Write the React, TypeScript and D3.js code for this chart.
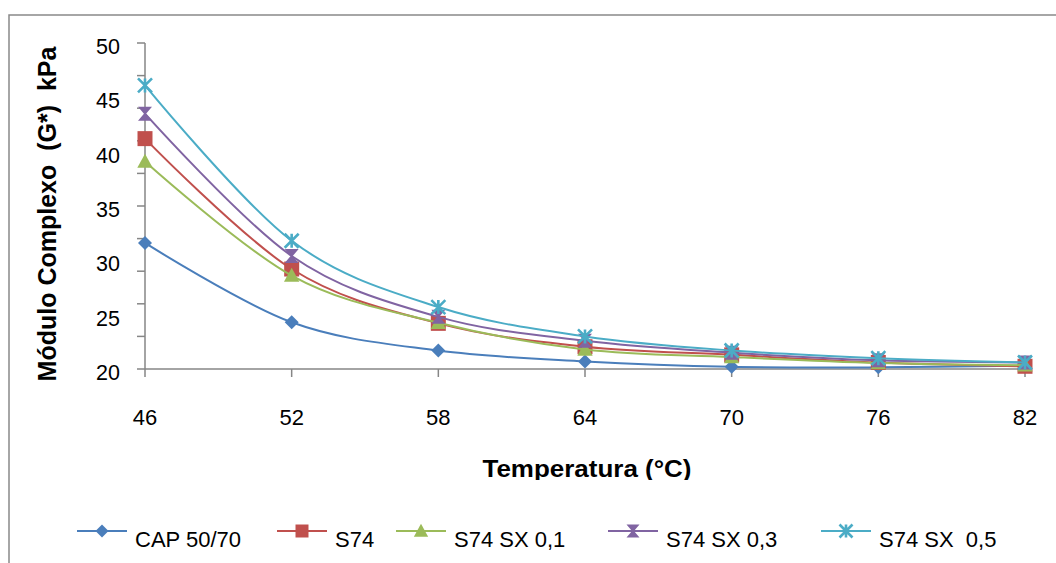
import { useRef, useEffect } from 'react';
import * as d3 from 'd3';

const temperatures = ['46', '52', '58', '64', '70', '76', '82'];
const seriesNames = ['CAP 50/70', 'S74', 'S74 SX 0,1', 'S74 SX 0,3', 'S74 SX  0,5'];
const cap5070 = [31.6, 24.3, 21.7, 20.7, 20.2, 20.15, 20.3];
const s74 = [41.2, 29.2, 24.2, 22.05, 21.3, 20.6, 20.25];
const s74sx01 = [39.1, 28.6, 24.25, 21.8, 21.1, 20.55, 20.35];
const s74sx03 = [43.5, 30.4, 24.8, 22.6, 21.5, 20.8, 20.6];
const s74sx05 = [46.1, 31.8, 25.7, 23.0, 21.7, 21.0, 20.6];
const yTickLabels = [20, 25, 30, 35, 40, 45, 50];
const yTickMarks = [20, 23, 26, 29, 32, 35, 38, 41, 44, 47, 50];

const colors = ['#4a7ebb', '#c0504d', '#9bbb59', '#8064a2', '#4bacc6'];
const markers = ['diamond', 'square', 'triangle', 'hourglass', 'star'];
const FONT = "'Liberation Sans', Arial, sans-serif";

const markerPath = (kind: string, s: number) => {
  switch (kind) {
    case 'diamond': return `M0,${-s}L${s},0L0,${s}L${-s},0Z`;
    case 'square': return `M${-s},${-s}H${s}V${s}H${-s}Z`;
    case 'triangle': return `M0,${-s * 1.1}L${s * 1.1},${s * 0.9}L${-s * 1.1},${s * 0.9}Z`;
    case 'hourglass': return `M${-s},${-s}H${s}L${s * 0.15},0L${s},${s}H${-s}L${-s * 0.15},0Z`;
    default: return '';
  }
};

const drawMarker = (g: any, kind: string, color: string, x: number, y: number, s: number) => {
  if (kind === 'star') {
    g.append('path')
      .attr('d', `M${x - s},${y - s}L${x + s},${y + s}M${x - s},${y + s}L${x + s},${y - s}M${x},${y - s}V${y + s}`)
      .attr('stroke', color).attr('stroke-width', 2.6).attr('fill', 'none');
  } else {
    g.append('path')
      .attr('d', markerPath(kind, s))
      .attr('transform', `translate(${x},${y})`)
      .attr('fill', color);
  }
};

const App = () => {
  const svgRef = useRef<SVGSVGElement>(null);

  useEffect(() => {
    const svg = d3.select(svgRef.current);
    svg.selectAll('*').remove();

    const allSeries = [cap5070, s74, s74sx01, s74sx03, s74sx05];

    const x = d3.scalePoint<string>().domain(temperatures).range([145, 1025]);
    const y = d3.scaleLinear().domain([20, 50]).range([369, 43]);

    // chart border (right and bottom edges run off the picture)
    svg.append('rect')
      .attr('x', 9).attr('y', 15).attr('width', 1100).attr('height', 600)
      .attr('fill', 'none').attr('stroke', '#898989').attr('stroke-width', 1.5);

    // y axis
    const axisColor = '#868686';
    svg.append('line')
      .attr('x1', 145).attr('x2', 145).attr('y1', y(50)).attr('y2', y(20))
      .attr('stroke', axisColor).attr('stroke-width', 1.5);
    svg.append('g').selectAll('line').data(yTickMarks).enter().append('line')
      .attr('x1', 137).attr('x2', 145)
      .attr('y1', d => y(d)).attr('y2', d => y(d))
      .attr('stroke', axisColor).attr('stroke-width', 1.5);
    svg.append('g').selectAll('text').data(yTickLabels).enter().append('text')
      .attr('x', 120).attr('y', d => y(d) + 11)
      .attr('text-anchor', 'end')
      .attr('font-family', FONT).attr('font-size', 21.5).attr('fill', '#000')
      .text(d => d);

    // x axis
    svg.append('line')
      .attr('x1', 145).attr('x2', 1025).attr('y1', y(20)).attr('y2', y(20))
      .attr('stroke', axisColor).attr('stroke-width', 1.5);
    svg.append('g').selectAll('line').data(temperatures).enter().append('line')
      .attr('x1', d => x(d) as number).attr('x2', d => x(d) as number)
      .attr('y1', y(20)).attr('y2', y(20) + 8)
      .attr('stroke', axisColor).attr('stroke-width', 1.5);
    svg.append('g').selectAll('text').data(temperatures).enter().append('text')
      .attr('x', d => x(d) as number).attr('y', 425)
      .attr('text-anchor', 'middle')
      .attr('font-family', FONT).attr('font-size', 22).attr('fill', '#000')
      .text(d => d);

    // axis titles
    svg.append('defs').append('clipPath').attr('id', 'xtclip')
      .append('rect').attr('x', 0).attr('y', 0).attr('width', 1056).attr('height', 480);
    svg.append('text')
      .attr('x', 587).attr('y', 477)
      .attr('text-anchor', 'middle')
      .attr('clip-path', 'url(#xtclip)')
      .attr('font-family', FONT).attr('font-weight', 'bold').attr('font-size', 24)
      .attr('textLength', 209).attr('lengthAdjust', 'spacingAndGlyphs')
      .text('Temperatura (°C)');
    svg.append('text')
      .attr('transform', 'translate(56,214) rotate(-90)')
      .attr('text-anchor', 'middle')
      .attr('font-family', FONT).attr('font-weight', 'bold').attr('font-size', 25)
      .style('white-space', 'pre')
      .text('Módulo Complexo  (G*)  kPa');

    // series
    const line = d3.line<number>()
      .x((_, i) => x(temperatures[i]) as number)
      .y(d => y(d))
      .curve(d3.curveCardinal.tension(0));

    allSeries.forEach((vals, si) => {
      const g = svg.append('g');
      g.append('path')
        .attr('d', line(vals))
        .attr('fill', 'none')
        .attr('stroke', colors[si])
        .attr('stroke-width', 2);
      vals.forEach((v, i) => {
        drawMarker(g, markers[si], colors[si], x(temperatures[i]) as number, y(v), si === 1 ? 7.5 : 7);
      });
    });

    // legend
    const legendX = [77, 277, 396, 608, 821];
    const legend = svg.append('g');
    seriesNames.forEach((name, si) => {
      const lx = legendX[si];
      legend.append('line')
        .attr('x1', lx).attr('x2', lx + 50).attr('y1', 531).attr('y2', 531)
        .attr('stroke', colors[si]).attr('stroke-width', 2);
      drawMarker(legend, markers[si], colors[si], lx + 25, 531, 6.5);
      legend.append('text')
        .attr('x', lx + 58).attr('y', 547)
        .attr('font-family', FONT).attr('font-size', 22).attr('fill', '#000')
        .style('white-space', 'pre')
        .text(name);
    });
  }, []);

  return (
    <svg
      ref={svgRef}
      width={1056}
      height={563}
      style={{ position: 'absolute', left: 0, top: 0, background: '#fff' }}
    />
  );
};

export default App;
